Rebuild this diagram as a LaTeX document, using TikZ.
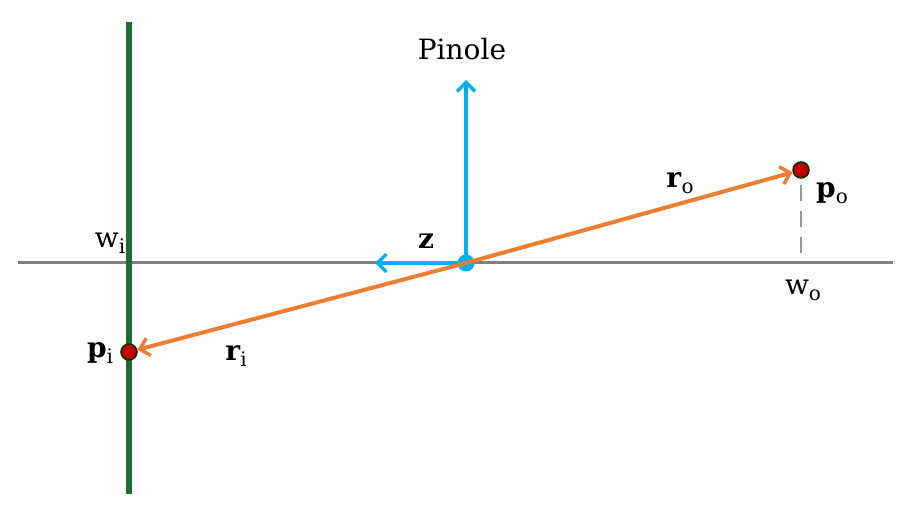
\documentclass[tikz,border=0pt]{standalone}
\usepackage{fontspec}
\setmainfont{DejaVu Serif}
\usetikzlibrary{arrows.meta}
\definecolor{axgray}{RGB}{128,128,128}
\definecolor{imgreen}{RGB}{30,110,50}
\definecolor{pinblue}{RGB}{0,176,240}
\definecolor{rayorange}{RGB}{237,125,49}
\definecolor{ptred}{RGB}{192,0,0}
\newcommand{\mysub}[1]{\raisebox{-0.22em}{\fontsize{20}{20}\selectfont\mdseries #1}}
\tikzset{
  axis/.style={draw=axgray, line width=3pt},
  plane/.style={draw=imgreen, line width=5.5pt},
  bluearrow/.style={draw=pinblue, line width=4pt, -{Straight Barb[length=9pt,width=18pt,line width=3.5pt]}},
  ray/.style={draw=rayorange, line width=4pt, -{Straight Barb[length=9pt,width=18pt,line width=3.5pt]}},
  pt/.style={circle, fill=ptred, draw=black!80!green, line width=1.5pt, minimum size=16pt, inner sep=0pt},
  lbl/.style={font=\fontsize{28}{32}\selectfont, inner sep=0pt},
}
\begin{document}
\begin{tikzpicture}[x=1pt,y=-1pt]
\useasboundingbox (0,0) rectangle (917,510);
\coordinate (axL) at (18,263);
\coordinate (axR) at (893,263);
\coordinate (plT) at (129,22);
\coordinate (plB) at (129,494);
\coordinate (up) at (466,80);
\coordinate (zl) at (375,263);
\coordinate (wo) at (801,260);
\draw[axis] (axL) -- (axR);
\draw[plane] (plT) -- (plB);
\node[pt] (pi) at (129,352) {};
\node[pt] (po) at (801,170) {};
\node[circle, fill=pinblue, minimum size=17pt, inner sep=0pt] (o) at (466,263) {};
\draw[bluearrow] (o.center) -- (up);
\draw[bluearrow] (o.center) -- (zl);
\draw[ray] (o.center) -- (pi);
\draw[ray] (o.center) -- (po);
\draw[axgray!80, line width=2pt, dash pattern=on 16pt off 10pt] (po.south) ++(0,6) coordinate (dtop) (dtop) -- (wo);
\node[lbl] (tpin) at (462,49) {Pinole};
\node[lbl] (tz) at (426,241) {\textbf{z}};
\node[lbl] (twi) at (110,243) {w\mysub{i}};
\node[lbl] (tpi) at (100,353) {\textbf{p}\mysub{i}};
\node[lbl] (tri) at (236,356) {\textbf{r}\mysub{i}};
\node[lbl] (tro) at (680,183) {\textbf{r}\mysub{o}};
\node[lbl] (tpo) at (832,193) {\textbf{p}\mysub{o}};
\node[lbl] (two) at (803,290) {w\mysub{o}};
\end{tikzpicture}
\end{document}
